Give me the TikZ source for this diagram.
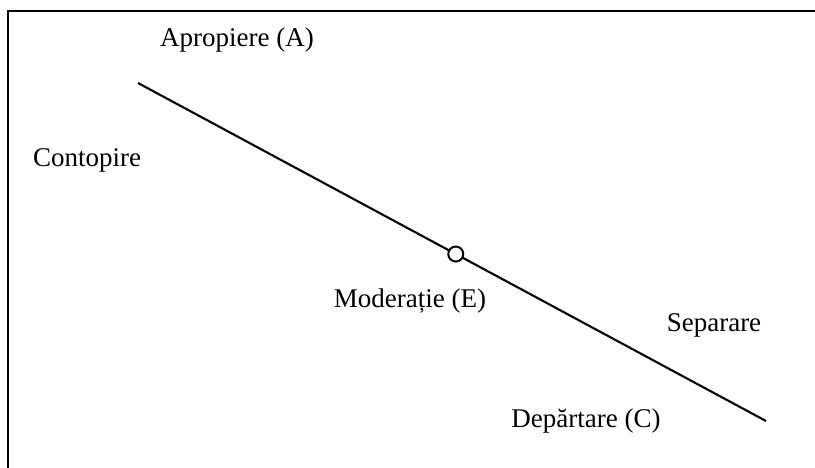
\documentclass[tikz,border=0pt]{standalone}
\usepackage{fontspec}
\setmainfont{Liberation Serif}
\usepackage{tikz}
\usetikzlibrary{positioning,calc}

\begin{document}
\begin{tikzpicture}[x=1pt,y=-1pt,font=\fontsize{27}{32}\selectfont,
  lbl/.style={inner sep=0pt,anchor=center},
  pt/.style={circle,draw,fill=white,line width=2pt,minimum size=15pt,inner sep=0pt},
  ln/.style={line width=2.1pt}]
\useasboundingbox (0,0) rectangle (815,468);
\draw[line width=2.6pt] (815,11) -- (8,11) -- (8,468);
\coordinate (p1) at (138,83);
\coordinate (p2) at (766,421);
\draw[ln] (p1) -- node[pt,pos=0.506] (e) {} (p2);
\node[lbl] (apr) at (237,40) {Apropiere (A)};
\node[lbl] (con) at (87,160) {Contopire};
\node[lbl] (mod) at (410,301) {Moderație (E)};
\node[lbl] (sep) at (714,325) {Separare};
\node[lbl] (dep) at (586,421) {Depărtare (C)};
\end{tikzpicture}
\end{document}
